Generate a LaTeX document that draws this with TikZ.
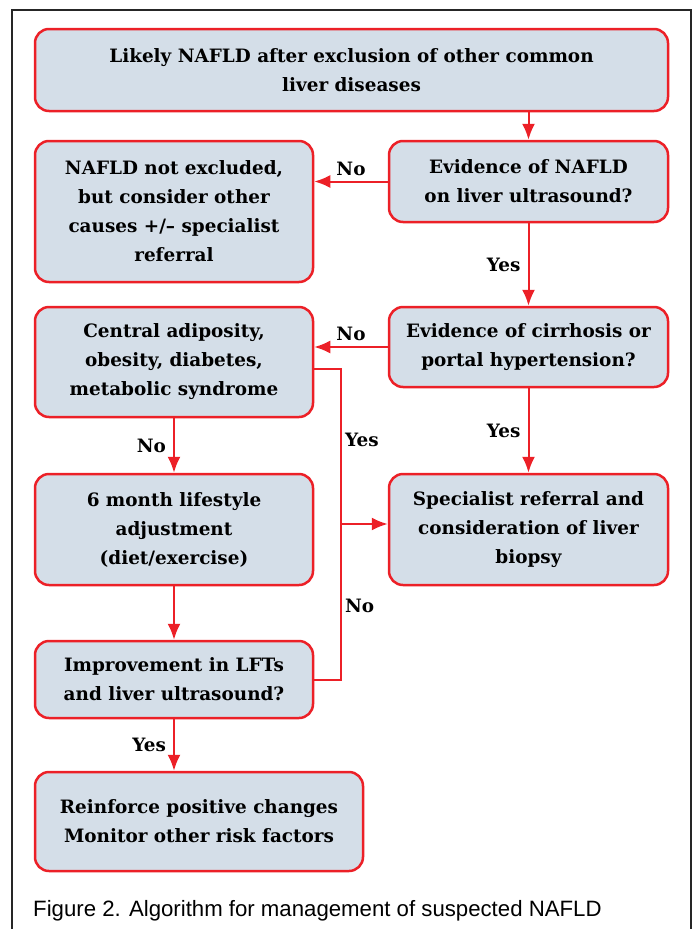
\documentclass[tikz,border=0pt]{standalone}
\usepackage{fontspec}
\setmainfont{DejaVu Serif}
\newfontfamily\captionfont{Liberation Sans}
\usepackage{xcolor}
\usepackage{tikz}
\usetikzlibrary{arrows.meta,positioning}

\definecolor{boxred}{HTML}{EC2027}
\definecolor{boxfill}{HTML}{D4DEE8}

\begin{document}
\begin{tikzpicture}[
    x=1pt, y=-1pt,
    block/.style={rectangle, rounded corners=14pt, draw=boxred, fill=boxfill, line width=2.5pt, align=center, inner sep=0pt, font=\fontsize{18.4}{29}\selectfont\bfseries},
    arr/.style={draw=boxred, line width=2pt, -{Latex[length=16pt,width=13pt]}},
    link/.style={draw=boxred, line width=2pt},
    lab/.style={font=\fontsize{18.4}{22}\selectfont\bfseries, inner sep=3pt}
]

\useasboundingbox (0,0) rectangle (693,929);
\draw[line width=1.5pt, black!85] (12,929) -- (12,10) -- (691,10) -- (691,929);

\node[block, minimum width=633pt, minimum height=82pt] (likely) at (351.5,70) {Likely NAFLD after exclusion of other common \\ liver diseases};
\node[block, minimum width=278pt, minimum height=141pt] (not_excl) at (174,211.5) {NAFLD not excluded, \\ but consider other \\ causes +/\textendash{} specialist \\ referral};
\node[block, minimum width=279pt, minimum height=81pt] (us_q) at (528.5,181.5) {Evidence of NAFLD \\ on liver ultrasound?};
\node[block, minimum width=278pt, minimum height=110pt] (adipo) at (174,362) {Central adiposity, \\ obesity, diabetes, \\ metabolic syndrome};
\node[block, minimum width=279pt, minimum height=80pt] (cirr_q) at (528.5,347) {Evidence of cirrhosis or \\ portal hypertension?};
\node[block, minimum width=278pt, minimum height=111pt] (lifestyle) at (174,529.5) {6 month lifestyle \\ adjustment \\ (diet/exercise)};
\node[block, minimum width=279pt, minimum height=111pt] (referral) at (528.5,529.5) {Specialist referral and \\ consideration of liver \\ biopsy};
\node[block, minimum width=278pt, minimum height=77pt] (improve) at (174,679.5) {Improvement in LFTs \\ and liver ultrasound?};
\node[block, minimum width=328pt, minimum height=99pt] (reinforce) at (199,821.5) {Reinforce positive changes \\ Monitor other risk factors};

\coordinate (jct) at (341,524);

\draw[arr] (us_q.north |- likely.south) -- (us_q.north);
\draw[arr] (us_q.west) -- node[lab, above, yshift=2pt] (no1) {No} (us_q.west -| not_excl.east);
\draw[arr] (us_q.south) -- node[lab, left, xshift=-4pt] (yes1) {Yes} (cirr_q.north);
\draw[arr] (cirr_q.west) -- node[lab, above, yshift=2pt] (no2) {No} (cirr_q.west -| adipo.east);
\draw[arr] (cirr_q.south) -- node[lab, left, xshift=-4pt] (yes2) {Yes} (referral.north);
\draw[link] ([yshift=-7pt]adipo.east) -| node[lab, right, pos=0.73] (yes3) {Yes} (jct);
\draw[link] (improve.east) -| node[lab, right, pos=0.735] (no3) {No} (jct);
\draw[arr] (jct) -- (jct -| referral.west);
\draw[arr] (adipo.south) -- node[lab, left, xshift=-4pt] (no4) {No} (lifestyle.north);
\draw[arr] (lifestyle.south) -- (improve.north);
\draw[arr] (improve.south) -- node[lab, left, xshift=-4pt] (yes4) {Yes} (reinforce.north -| improve.south);

\node[anchor=base west, inner sep=0pt, font=\captionfont\fontsize{22.2}{26}\selectfont] (caption) at (33,916) {Figure 2. Algorithm for management of suspected NAFLD};

\end{tikzpicture}
\end{document}
